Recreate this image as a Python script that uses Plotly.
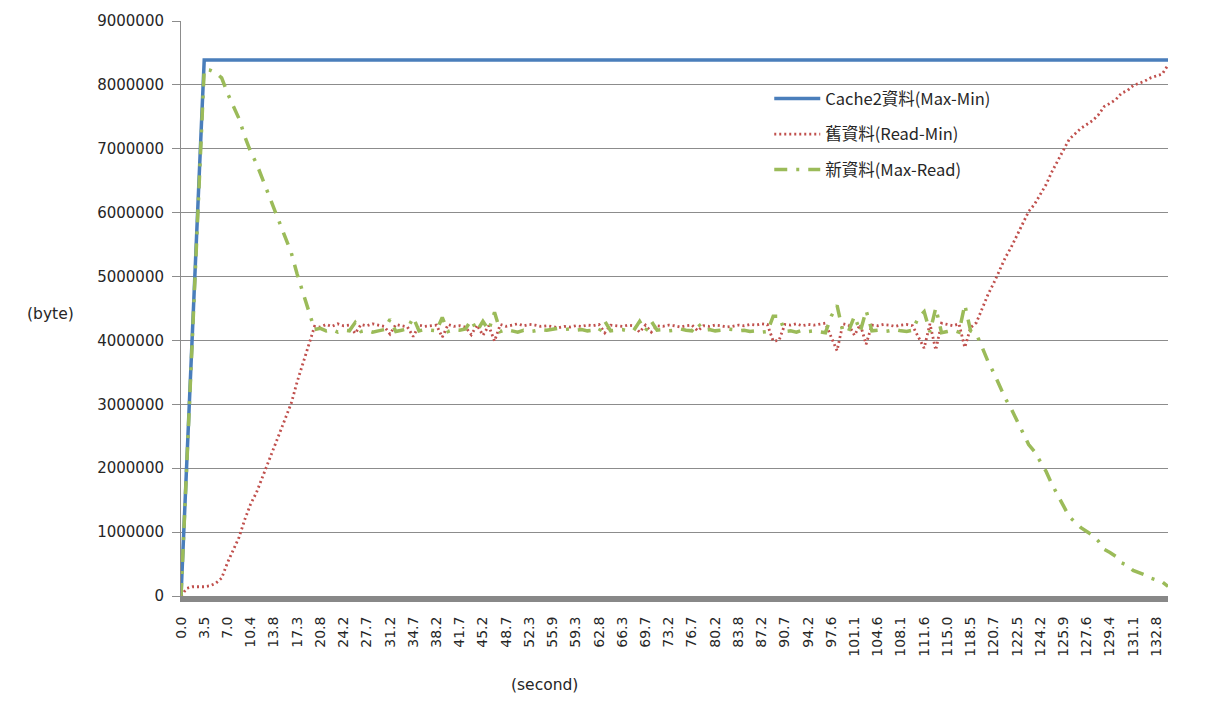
import plotly.graph_objects as go

# Sample times (s), one category per sample
seconds = [
    "0.0", "0.9", "1.7", "2.6", "3.5", "4.4", "5.2", "6.1",
    "7.0", "7.9", "8.7", "9.6", "10.4", "11.3", "12.1", "13.0",
    "13.8", "14.7", "15.5", "16.4", "17.3", "18.2", "19.0", "19.9",
    "20.8", "21.7", "22.5", "23.4", "24.2", "25.1", "26.0", "26.8",
    "27.7", "28.6", "29.4", "30.3", "31.2", "32.1", "32.9", "33.8",
    "34.7", "35.6", "36.4", "37.3", "38.2", "39.1", "39.9", "40.8",
    "41.7", "42.6", "43.4", "44.3", "45.2", "46.1", "46.9", "47.8",
    "48.7", "49.6", "50.5", "51.4", "52.3", "53.2", "54.1", "55.0",
    "55.9", "56.8", "57.6", "58.5", "59.3", "60.2", "61.0", "61.9",
    "62.8", "63.7", "64.5", "65.4", "66.3", "67.2", "68.0", "68.8",
    "69.7", "70.6", "71.4", "72.3", "73.2", "74.1", "74.9", "75.8",
    "76.7", "77.6", "78.4", "79.3", "80.2", "81.1", "82.0", "82.9",
    "83.8", "84.7", "85.5", "86.3", "87.2", "88.1", "88.9", "89.8",
    "90.7", "91.6", "92.4", "93.3", "94.2", "95.1", "95.9", "96.7",
    "97.6", "98.5", "99.3", "100.2", "101.1", "102.0", "102.8", "103.7",
    "104.6", "105.5", "106.3", "107.2", "108.1", "109.0", "109.8", "110.7",
    "111.6", "112.5", "113.3", "114.1", "115.0", "115.9", "116.7", "117.6",
    "118.5", "119.0", "119.6", "120.1", "120.7", "121.2", "121.6", "122.1",
    "122.5", "122.9", "123.4", "123.8", "124.2", "124.6", "125.1", "125.5",
    "125.9", "126.3", "126.8", "127.2", "127.6", "128.1", "128.5", "129.0",
    "129.4", "129.8", "130.3", "130.7", "131.1", "131.5", "132.0", "132.4",
    "132.8", "133.2", "133.7",
]

tick_labels = [
    "0.0", "3.5", "7.0", "10.4", "13.8", "17.3", "20.8", "24.2", "27.7",
    "31.2", "34.7", "38.2", "41.7", "45.2", "48.7", "52.3", "55.9", "59.3",
    "62.8", "66.3", "69.7", "73.2", "76.7", "80.2", "83.8", "87.2", "90.7",
    "94.2", "97.6", "101.1", "104.6", "108.1", "111.6", "115.0", "118.5",
    "120.7", "122.5", "124.2", "125.9", "127.6", "129.4", "131.1", "132.8",
]

# Cache2 size (Max-Min): ramps up, then stays flat to the end
cache_seconds = ["0.0", "0.9", "1.7", "2.6", "3.5", "133.7"]
cache_bytes = [0, 2200000, 4200000, 6300000, 8390000, 8390000]

# Old data (Read-Min)
old_bytes = [
    0, 120000, 145000, 145000, 145000, 160000, 200000, 280000,
    520000, 720000, 920000, 1200000, 1440000, 1620000, 1850000, 2100000,
    2320000, 2550000, 2780000, 3020000, 3350000, 3650000, 3950000, 4220000,
    4210000, 4250000, 4220000, 4260000, 4230000, 4240000, 4110000, 4250000,
    4230000, 4260000, 4240000, 4220000, 4100000, 4250000, 4230000, 4210000,
    4060000, 4240000, 4220000, 4230000, 4240000, 4050000, 4250000, 4220000,
    4230000, 4210000, 4090000, 4240000, 4080000, 4230000, 3990000, 4250000,
    4220000, 4240000, 4260000, 4230000, 4250000, 4240000, 4220000, 4230000,
    4210000, 4200000, 4220000, 4210000, 4230000, 4220000, 4240000, 4230000,
    4250000, 4120000, 4240000, 4230000, 4220000, 4240000, 4230000, 4130000,
    4240000, 4130000, 4230000, 4220000, 4240000, 4230000, 4210000, 4230000,
    4240000, 4150000, 4230000, 4220000, 4240000, 4230000, 4210000, 4220000,
    4240000, 4230000, 4250000, 4240000, 4260000, 4250000, 3990000, 4000000,
    4250000, 4240000, 4260000, 4230000, 4250000, 4240000, 4260000, 4270000,
    4050000, 3840000, 4260000, 4240000, 4080000, 4250000, 3940000, 4240000,
    4230000, 4250000, 4240000, 4220000, 4240000, 4250000, 4230000, 4050000,
    3880000, 4260000, 3850000, 4270000, 4250000, 4230000, 4260000, 3890000,
    4200000, 4280000, 4500000, 4720000, 4900000, 5100000, 5300000, 5460000,
    5650000, 5850000, 6020000, 6130000, 6290000, 6440000, 6640000, 6800000,
    6980000, 7150000, 7240000, 7320000, 7380000, 7440000, 7530000, 7660000,
    7710000, 7770000, 7870000, 7910000, 7990000, 8020000, 8060000, 8110000,
    8140000, 8170000, 8310000,
]

# New data (Max-Read)
new_bytes = [
    0, 2080000, 4050000, 6150000, 8245000, 8230000, 8190000, 8110000,
    7870000, 7670000, 7470000, 7190000, 6950000, 6770000, 6540000, 6290000,
    6070000, 5840000, 5610000, 5370000, 5040000, 4740000, 4440000, 4170000,
    4190000, 4150000, 4170000, 4130000, 4160000, 4150000, 4280000, 4140000,
    4160000, 4130000, 4150000, 4170000, 4330000, 4140000, 4160000, 4180000,
    4360000, 4150000, 4170000, 4160000, 4150000, 4360000, 4140000, 4170000,
    4160000, 4180000, 4320000, 4150000, 4300000, 4160000, 4440000, 4140000,
    4170000, 4150000, 4130000, 4160000, 4140000, 4150000, 4170000, 4160000,
    4180000, 4190000, 4170000, 4180000, 4160000, 4170000, 4150000, 4160000,
    4140000, 4300000, 4150000, 4160000, 4170000, 4150000, 4160000, 4300000,
    4150000, 4300000, 4160000, 4170000, 4150000, 4160000, 4180000, 4160000,
    4150000, 4270000, 4160000, 4170000, 4150000, 4160000, 4180000, 4170000,
    4150000, 4160000, 4140000, 4150000, 4130000, 4140000, 4380000, 4380000,
    4140000, 4150000, 4130000, 4160000, 4140000, 4150000, 4130000, 4120000,
    4380000, 4550000, 4130000, 4150000, 4380000, 4140000, 4470000, 4150000,
    4160000, 4140000, 4150000, 4170000, 4150000, 4140000, 4160000, 4360000,
    4450000, 4130000, 4510000, 4120000, 4140000, 4160000, 4130000, 4560000,
    4150000, 4100000, 3890000, 3670000, 3490000, 3290000, 3090000, 2930000,
    2740000, 2540000, 2370000, 2260000, 2100000, 1950000, 1750000, 1590000,
    1410000, 1240000, 1150000, 1070000, 1010000, 950000, 860000, 730000,
    680000, 620000, 520000, 480000, 400000, 370000, 330000, 280000,
    250000, 220000, 150000,
]

y_ticks = [0, 1000000, 2000000, 3000000, 4000000, 5000000,
           6000000, 7000000, 8000000, 9000000]

GRID = "#8c8c8c"
TEXT = "#262626"

fig = go.Figure()

fig.add_trace(go.Scatter(
    x=cache_seconds, y=cache_bytes, mode="lines", name="Cache2資料(Max-Min)",
    line=dict(color="#4a7ebb", width=3.5), legendgroup="a",
))
fig.add_trace(go.Scatter(
    x=seconds, y=old_bytes, mode="lines", name="舊資料(Read-Min)",
    line=dict(color="#c0504d", width=2.8, dash="2px,3px"), legendgroup="b",
))
fig.add_trace(go.Scatter(
    x=seconds, y=new_bytes, mode="lines", name="新資料(Max-Read)",
    line=dict(color="#9bbb59", width=3.5, dash="13px,9px,3px,9px"),
    legendgroup="c",
))

fig.update_layout(
    width=1215, height=715,
    margin=dict(l=181, r=47, t=19, b=119),
    paper_bgcolor="white", plot_bgcolor="white",
    font=dict(family="DejaVu Sans", color=TEXT),
    showlegend=True,
    legend=dict(
        x=0.596, y=0.895, xanchor="left", yanchor="top",
        bgcolor="rgba(0,0,0,0)", tracegroupgap=11, itemwidth=46,
        font=dict(family="Noto Sans CJK TC", size=16.5, color=TEXT),
    ),
    xaxis=dict(
        type="category", categoryorder="array", categoryarray=seconds,
        range=[0, len(seconds) - 1],
        tickmode="array", tickvals=tick_labels, ticktext=tick_labels,
        tickangle=-90, tickfont=dict(size=14, family="DejaVu Sans"),
        showgrid=False, zeroline=False,
        showline=True, linecolor="#888888", linewidth=6,
        ticks="", ticklabelstandoff=9,
    ),
    yaxis=dict(
        range=[0, 9000000], tickmode="array", tickvals=y_ticks,
        tickformat="d", tickfont=dict(size=15, family="DejaVu Sans"),
        showgrid=True, gridcolor=GRID, gridwidth=1, zeroline=False,
        showline=True, linecolor=GRID, linewidth=1,
        ticks="outside", ticklen=8, tickcolor=GRID, ticklabelstandoff=5,
    ),
    annotations=[
        dict(text="(byte)", xref="paper", yref="paper", x=-0.132, y=0.49,
             xanchor="center", yanchor="middle", showarrow=False,
             font=dict(size=15.5, family="DejaVu Sans", color=TEXT)),
        dict(text="(second)", xref="paper", yref="paper", x=0.368, y=-0.155,
             xanchor="center", yanchor="middle", showarrow=False,
             font=dict(size=15.5, family="DejaVu Sans", color=TEXT)),
    ],
)

fig.write_html("out.html")
